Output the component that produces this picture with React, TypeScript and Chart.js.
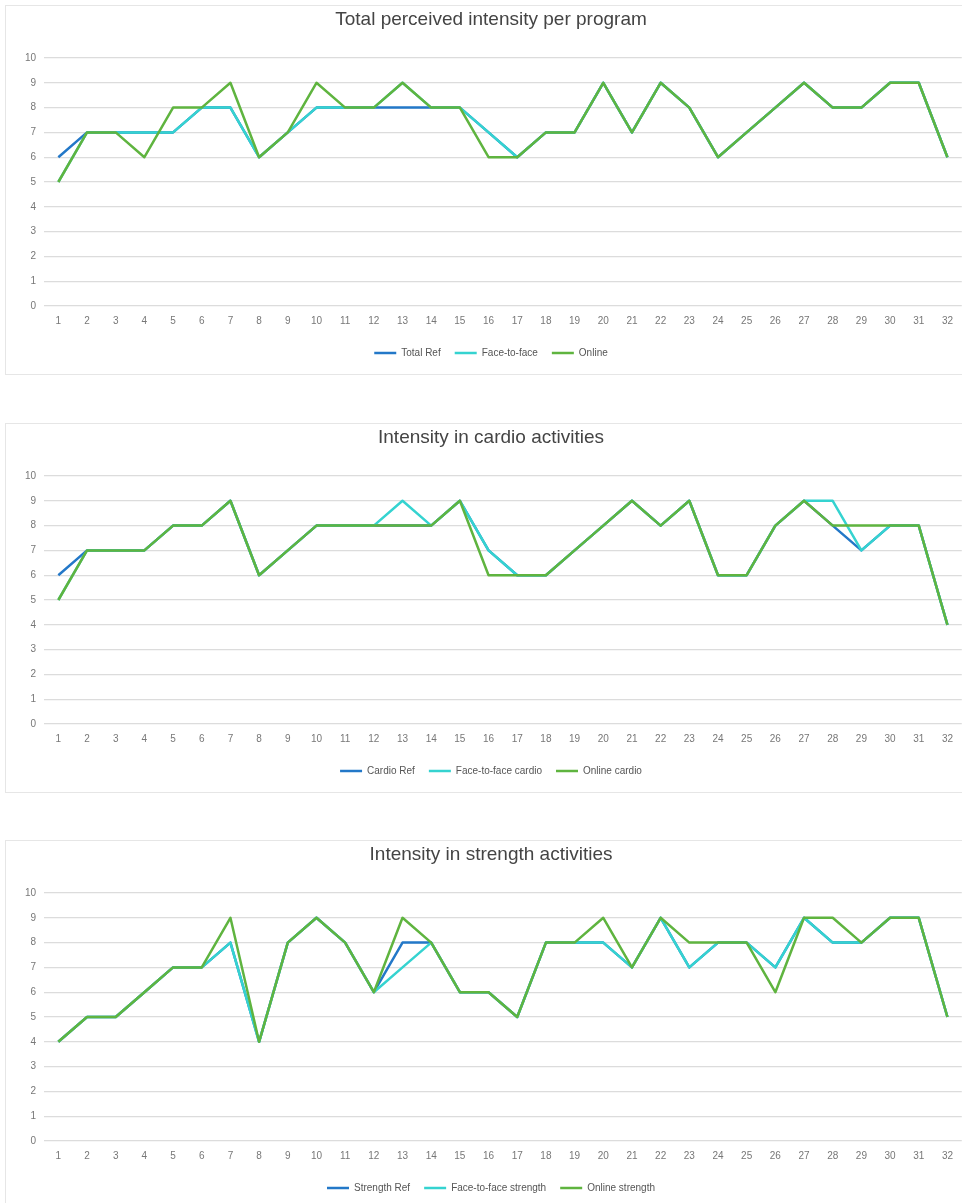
import React, { useEffect, useRef } from "react";
import { Chart, registerables } from "chart.js";

Chart.register(...registerables);

const xLabels = ["1","2","3","4","5","6","7","8","9","10","11","12","13","14","15","16","17","18","19","20","21","22","23","24","25","26","27","28","29","30","31","32"];

const totalTitle = "Total perceived intensity per program";
const totalNames = ["Total Ref", "Face-to-face", "Online"];
const totalRef = [6,7,7,7,7,8,8,6,7,8,8,8,8,8,8,7,6,7,7,9,7,9,8,6,7,8,9,8,8,9,9,6];
const totalFace = [5,7,7,7,7,8,8,6,7,8,8,8,9,8,8,7,6,7,7,9,7,9,8,6,7,8,9,8,8,9,9,6];
const totalOnline = [5,7,7,6,8,8,9,6,7,9,8,8,9,8,8,6,6,7,7,9,7,9,8,6,7,8,9,8,8,9,9,6];

const cardioTitle = "Intensity in cardio activities";
const cardioNames = ["Cardio Ref", "Face-to-face cardio", "Online cardio"];
const cardioRef = [6,7,7,7,8,8,9,6,7,8,8,8,8,8,9,7,6,6,7,8,9,8,9,6,6,8,9,8,7,8,8,4];
const cardioFace = [5,7,7,7,8,8,9,6,7,8,8,8,9,8,9,7,6,6,7,8,9,8,9,6,6,8,9,9,7,8,8,4];
const cardioOnline = [5,7,7,7,8,8,9,6,7,8,8,8,8,8,9,6,6,6,7,8,9,8,9,6,6,8,9,8,8,8,8,4];

const strengthTitle = "Intensity in strength activities";
const strengthNames = ["Strength Ref", "Face-to-face strength", "Online strength"];
const strengthRef = [4,5,5,6,7,7,8,4,8,9,8,6,8,8,6,6,5,8,8,8,7,9,7,8,8,7,9,8,8,9,9,5];
const strengthFace = [4,5,5,6,7,7,8,4,8,9,8,6,7,8,6,6,5,8,8,8,7,9,7,8,8,7,9,8,8,9,9,5];
const strengthOnline = [4,5,5,6,7,7,9,4,8,9,8,6,9,8,6,6,5,8,8,9,7,9,8,8,8,6,9,9,8,9,9,5];

const yTicks = [0,1,2,3,4,5,6,7,8,9,10];

const seriesColors = ["#2378c8", "#35d3d0", "#5fb43f"];
const FONT = "'Liberation Sans', Arial, sans-serif";

function LineChart({ title, names, series }: { title: string; names: string[]; series: number[][] }) {
  const ref = useRef<HTMLCanvasElement | null>(null);
  useEffect(() => {
    if (!ref.current) return;
    const chart = new Chart(ref.current, {
      type: "line",
      data: {
        labels: xLabels,
        datasets: series.map((d, i) => ({
          label: names[i],
          data: d,
          borderColor: seriesColors[i],
          backgroundColor: seriesColors[i],
          borderWidth: 2.5,
          borderJoinStyle: "round",
          pointRadius: 0,
          tension: 0,
          order: 3 - i,
        })),
      },
      options: {
        responsive: false,
        animation: false,
        devicePixelRatio: 1,
        layout: { padding: { left: 20, right: 0, top: 0, bottom: 12 } },
        plugins: {
          title: {
            display: true,
            text: title,
            color: "#444",
            font: { family: FONT, size: 19, weight: "normal" },
            padding: { top: 8, bottom: 27.2 },
          },
          legend: {
            position: "bottom",
            labels: {
              usePointStyle: true,
              pointStyle: "line",
              pointStyleWidth: 22,
              color: "#555",
              font: { family: FONT, size: 10 },
              padding: 14,
              sort: (a: any, b: any) => a.datasetIndex - b.datasetIndex,
            },
          },
          tooltip: { enabled: false },
        },
        scales: {
          x: {
            offset: true,
            grid: { display: false, drawTicks: false },
            border: { display: false },
            ticks: { color: "#777", font: { family: FONT, size: 10 }, padding: 9, maxRotation: 0, autoSkip: false },
            afterFit: (s: any) => { s.height = 28; },
          },
          y: {
            min: yTicks[0],
            max: yTicks[yTicks.length - 1],
            ticks: { stepSize: 1, color: "#777", font: { family: FONT, size: 10 }, padding: 8 },
            grid: { color: "#dcdcdc", lineWidth: 1.2, drawTicks: false },
            border: { display: false },
            afterFit: (s: any) => { s.width = 24; },
          },
        },
      },
    } as any);
    return () => chart.destroy();
  }, [title, names, series]);
  return <canvas ref={ref} width={962} height={380} style={{ display: "block" }} />;
}

const charts = [
  { title: totalTitle, names: totalNames, series: [totalRef, totalFace, totalOnline] },
  { title: cardioTitle, names: cardioNames, series: [cardioRef, cardioFace, cardioOnline] },
  { title: strengthTitle, names: strengthNames, series: [strengthRef, strengthFace, strengthOnline] },
];

export default function App() {
  const tops = [0, 418, 835];
  return (
    <div style={{ position: "absolute", left: 0, top: 0, width: 962, height: 1203, overflow: "hidden", background: "#fff" }}>
      {charts.map((c, i) => (
        <React.Fragment key={i}>
          <div style={{ position: "absolute", left: 5, top: tops[i] + 5, width: 975, height: 370, border: "1px solid #e6e6e6", boxSizing: "border-box" }} />
          <div style={{ position: "absolute", left: 0, top: tops[i], width: 962, height: 380 }}>
            <LineChart title={c.title} names={c.names} series={c.series} />
          </div>
        </React.Fragment>
      ))}
    </div>
  );
}
